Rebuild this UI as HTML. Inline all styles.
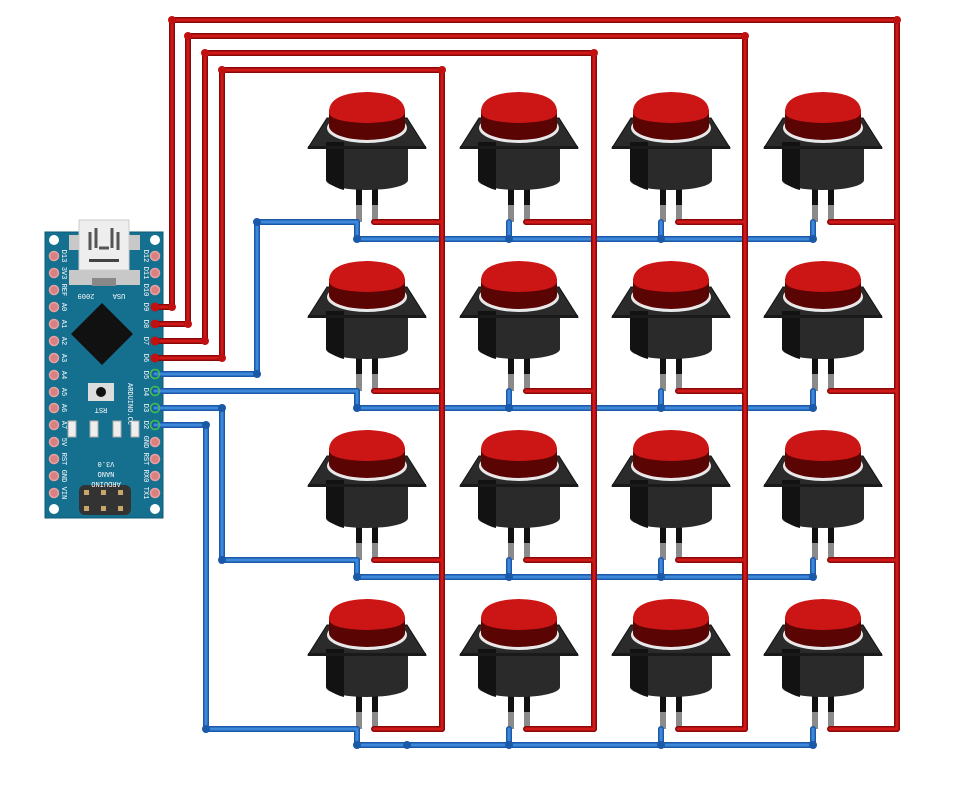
<!DOCTYPE html>
<html><head><meta charset="utf-8"><style>html,body{margin:0;padding:0;background:#fff}svg{display:block}</style></head>
<body>
<svg width="967" height="798" viewBox="0 0 967 798" xmlns="http://www.w3.org/2000/svg">
<defs>
<g id="btn">
  <rect x="-11" y="188" width="6" height="18" fill="#111"/>
  <rect x="5" y="188" width="6" height="18" fill="#111"/>
  <rect x="-11" y="205" width="6" height="17" fill="#8a8a8a"/>
  <rect x="5" y="205" width="6" height="17" fill="#8a8a8a"/>
  <polygon points="-59,148 -40,118 40,118 59,148" fill="#2b2b2b" stroke="#111" stroke-width="1"/>
  <rect x="-41" y="142" width="82" height="38" fill="#2a2a2a"/>
  <ellipse cx="0" cy="180" rx="41" ry="10" fill="#2a2a2a"/>
  <path d="M-41 142 H-23 V190 Q-35 187 -41 180 Z" fill="#121212"/>
  <rect x="-59" y="146" width="118" height="3" fill="#1a1a1a"/>
  <ellipse cx="0" cy="128" rx="40" ry="15" fill="#e8e8e8"/>
  <ellipse cx="0" cy="126" rx="38" ry="14" fill="#5a0404"/>
  <rect x="-38" y="110" width="76" height="16" fill="#5a0404"/>
  <path d="M-38 112 Q-38 93 0 92 Q38 93 38 112 Q38 122 0 123 Q-38 122 -38 112 Z" fill="#cc1515"/>
</g>
<g id="red" fill="none" stroke-linejoin="round" stroke-linecap="round">
  <path d="M155 307 H172 V20 H897 V729"/>
  <path d="M155 324 H188 V36 H745 V729"/>
  <path d="M155 341 H205 V53 H594 V729"/>
  <path d="M155 358 H222 V70 H442 V729"/>
  <path d="M374 222 H442 M526 222 H594 M678 222 H745 M830 222 H897"/>
  <path d="M374 391 H442 M526 391 H594 M678 391 H745 M830 391 H897"/>
  <path d="M374 560 H442 M526 560 H594 M678 560 H745 M830 560 H897"/>
  <path d="M374 729 H442 M526 729 H594 M678 729 H745 M830 729 H897"/>
</g>
<g id="blue" fill="none" stroke-linejoin="round" stroke-linecap="round">
  <path d="M155 374 H257 V222 H357"/>
  <path d="M155 391 H357"/>
  <path d="M155 408 H222 V560 H357"/>
  <path d="M155 425 H206 V729 H357"/>
  <path d="M357 222 V239 H813 M509 222 V239 M661 222 V239 M813 222 V239"/>
  <path d="M357 391 V408 H813 M509 391 V408 M661 391 V408 M813 391 V408"/>
  <path d="M357 560 V577 H813 M509 560 V577 M661 560 V577 M813 560 V577"/>
  <path d="M357 729 V745 H813 M509 729 V745 M661 729 V745 M813 729 V745"/>
</g>
</defs>

<!-- Arduino -->
<rect x="45" y="232" width="118" height="286" fill="#15708f" stroke="#0e5a75"/>
<rect x="69" y="235" width="71" height="15" fill="#c8c8c8"/>
<rect x="69" y="270" width="71" height="15" fill="#c8c8c8"/>
<rect x="79" y="220" width="50" height="50" fill="#eeeeee" stroke="#ccc"/>
<rect x="92" y="278" width="24" height="8" fill="#888"/>
<path d="M90 250 V232 M96 248 V228 M112 248 V228 M118 250 V232 M99 248 H109" stroke="#555" stroke-width="3" fill="none"/>
<rect x="89" y="259" width="30" height="3" fill="#444"/>
<circle cx="54" cy="240" r="5" fill="#fff"/><circle cx="155" cy="240" r="5" fill="#fff"/>
<circle cx="54" cy="509" r="5" fill="#fff"/><circle cx="155" cy="509" r="5" fill="#fff"/>
<polygon points="102,303 133,334 102,365 71,334" fill="#111"/>
<rect x="88" y="383" width="26" height="18" fill="#ddd"/><circle cx="101" cy="392" r="5" fill="#111"/>
<g fill="#eee" stroke="#aaa"><rect x="68" y="421" width="8" height="16"/><rect x="90" y="421" width="8" height="16"/><rect x="113" y="421" width="8" height="16"/><rect x="131" y="421" width="8" height="16"/></g>
<g fill="#333"><rect x="79" y="485" width="52" height="30" rx="6"/></g>
<g fill="#c9a76a"><rect x="84" y="490" width="5" height="5"/><rect x="101" y="490" width="5" height="5"/><rect x="118" y="490" width="5" height="5"/><rect x="84" y="506" width="5" height="5"/><rect x="101" y="506" width="5" height="5"/><rect x="118" y="506" width="5" height="5"/></g>
<g fill="#d98080" stroke="#e8a0a0" stroke-width="1.5">
<circle cx="54" cy="256" r="4.5"/><circle cx="54" cy="273" r="4.5"/><circle cx="54" cy="290" r="4.5"/><circle cx="54" cy="307" r="4.5"/><circle cx="54" cy="324" r="4.5"/><circle cx="54" cy="341" r="4.5"/><circle cx="54" cy="358" r="4.5"/><circle cx="54" cy="375" r="4.5"/><circle cx="54" cy="392" r="4.5"/><circle cx="54" cy="408" r="4.5"/><circle cx="54" cy="425" r="4.5"/><circle cx="54" cy="442" r="4.5"/><circle cx="54" cy="459" r="4.5"/><circle cx="54" cy="476" r="4.5"/><circle cx="54" cy="493" r="4.5"/>
<circle cx="155" cy="256" r="4.5"/><circle cx="155" cy="273" r="4.5"/><circle cx="155" cy="290" r="4.5"/><circle cx="155" cy="442" r="4.5"/><circle cx="155" cy="459" r="4.5"/><circle cx="155" cy="476" r="4.5"/><circle cx="155" cy="493" r="4.5"/>
</g>
<g font-family="Liberation Mono, monospace" font-size="7" fill="#fff" text-anchor="middle">
<text transform="translate(62,256) rotate(90)">D13</text>
<text transform="translate(62,273) rotate(90)">3V3</text>
<text transform="translate(62,290) rotate(90)">REF</text>
<text transform="translate(62,307) rotate(90)">A0</text>
<text transform="translate(62,324) rotate(90)">A1</text>
<text transform="translate(62,341) rotate(90)">A2</text>
<text transform="translate(62,358) rotate(90)">A3</text>
<text transform="translate(62,375) rotate(90)">A4</text>
<text transform="translate(62,392) rotate(90)">A5</text>
<text transform="translate(62,408) rotate(90)">A6</text>
<text transform="translate(62,425) rotate(90)">A7</text>
<text transform="translate(62,442) rotate(90)">5V</text>
<text transform="translate(62,459) rotate(90)">RST</text>
<text transform="translate(62,476) rotate(90)">GND</text>
<text transform="translate(62,493) rotate(90)">VIN</text>
<text transform="translate(144,256) rotate(90)">D12</text>
<text transform="translate(144,273) rotate(90)">D11</text>
<text transform="translate(144,290) rotate(90)">D10</text>
<text transform="translate(144,307) rotate(90)">D9</text>
<text transform="translate(144,324) rotate(90)">D8</text>
<text transform="translate(144,341) rotate(90)">D7</text>
<text transform="translate(144,358) rotate(90)">D6</text>
<text transform="translate(144,375) rotate(90)">D5</text>
<text transform="translate(144,392) rotate(90)">D4</text>
<text transform="translate(144,408) rotate(90)">D3</text>
<text transform="translate(144,425) rotate(90)">D2</text>
<text transform="translate(144,442) rotate(90)">GND</text>
<text transform="translate(144,459) rotate(90)">RST</text>
<text transform="translate(144,476) rotate(90)">RX0</text>
<text transform="translate(144,493) rotate(90)">TX1</text>
<text transform="translate(128,404) rotate(90)">ARDUINO.CC</text>
<text transform="translate(119,294) rotate(180)">USA</text>
<text transform="translate(86,294) rotate(180)">2009</text>
<text transform="translate(101,408) rotate(180)">RST</text>
<text transform="translate(106,462) rotate(180)">V3.0</text>
<text transform="translate(106,472) rotate(180)">NANO</text>
<text transform="translate(106,482) rotate(180)">ARDUINO</text>
</g>

<!-- buttons -->
<use href="#btn" transform="translate(367,0)"/><use href="#btn" transform="translate(519,0)"/><use href="#btn" transform="translate(671,0)"/><use href="#btn" transform="translate(823,0)"/>
<use href="#btn" transform="translate(367,169)"/><use href="#btn" transform="translate(519,169)"/><use href="#btn" transform="translate(671,169)"/><use href="#btn" transform="translate(823,169)"/>
<use href="#btn" transform="translate(367,338)"/><use href="#btn" transform="translate(519,338)"/><use href="#btn" transform="translate(671,338)"/><use href="#btn" transform="translate(823,338)"/>
<use href="#btn" transform="translate(367,507)"/><use href="#btn" transform="translate(519,507)"/><use href="#btn" transform="translate(671,507)"/><use href="#btn" transform="translate(823,507)"/>

<!-- wires -->
<use href="#blue" stroke="#1b58a8" stroke-width="6"/>
<use href="#blue" stroke="#3d88da" stroke-width="3"/>
<use href="#red" stroke="#880808" stroke-width="6"/>
<use href="#red" stroke="#d01818" stroke-width="3"/>
<g fill="#1b58a8">
<circle cx="257" cy="222" r="4"/><circle cx="257" cy="374" r="4"/><circle cx="222" cy="408" r="4"/><circle cx="222" cy="560" r="4"/><circle cx="206" cy="425" r="4"/><circle cx="206" cy="729" r="4"/><circle cx="407" cy="745" r="4"/>
<circle cx="357" cy="239" r="4"/><circle cx="509" cy="239" r="4"/><circle cx="661" cy="239" r="4"/><circle cx="813" cy="239" r="4"/>
<circle cx="357" cy="408" r="4"/><circle cx="509" cy="408" r="4"/><circle cx="661" cy="408" r="4"/><circle cx="813" cy="408" r="4"/>
<circle cx="357" cy="577" r="4"/><circle cx="509" cy="577" r="4"/><circle cx="661" cy="577" r="4"/><circle cx="813" cy="577" r="4"/>
<circle cx="357" cy="745" r="4"/><circle cx="509" cy="745" r="4"/><circle cx="661" cy="745" r="4"/><circle cx="813" cy="745" r="4"/>
</g>
<g fill="#c01010">
<circle cx="172" cy="307" r="4"/><circle cx="188" cy="324" r="4"/><circle cx="205" cy="341" r="4"/><circle cx="222" cy="358" r="4"/>
<circle cx="172" cy="20" r="4"/><circle cx="897" cy="20" r="4"/><circle cx="188" cy="36" r="4"/><circle cx="745" cy="36" r="4"/><circle cx="205" cy="53" r="4"/><circle cx="594" cy="53" r="4"/><circle cx="222" cy="70" r="4"/><circle cx="442" cy="70" r="4"/>
<circle cx="155" cy="307" r="4.5"/><circle cx="155" cy="324" r="4.5"/><circle cx="155" cy="341" r="4.5"/><circle cx="155" cy="358" r="4.5"/>
</g>
<g fill="none" stroke="#3ec24a" stroke-width="1.5">
<circle cx="155" cy="374" r="4.5"/><circle cx="155" cy="391" r="4.5"/><circle cx="155" cy="408" r="4.5"/><circle cx="155" cy="425" r="4.5"/>
</g>
</svg>
</body></html>
